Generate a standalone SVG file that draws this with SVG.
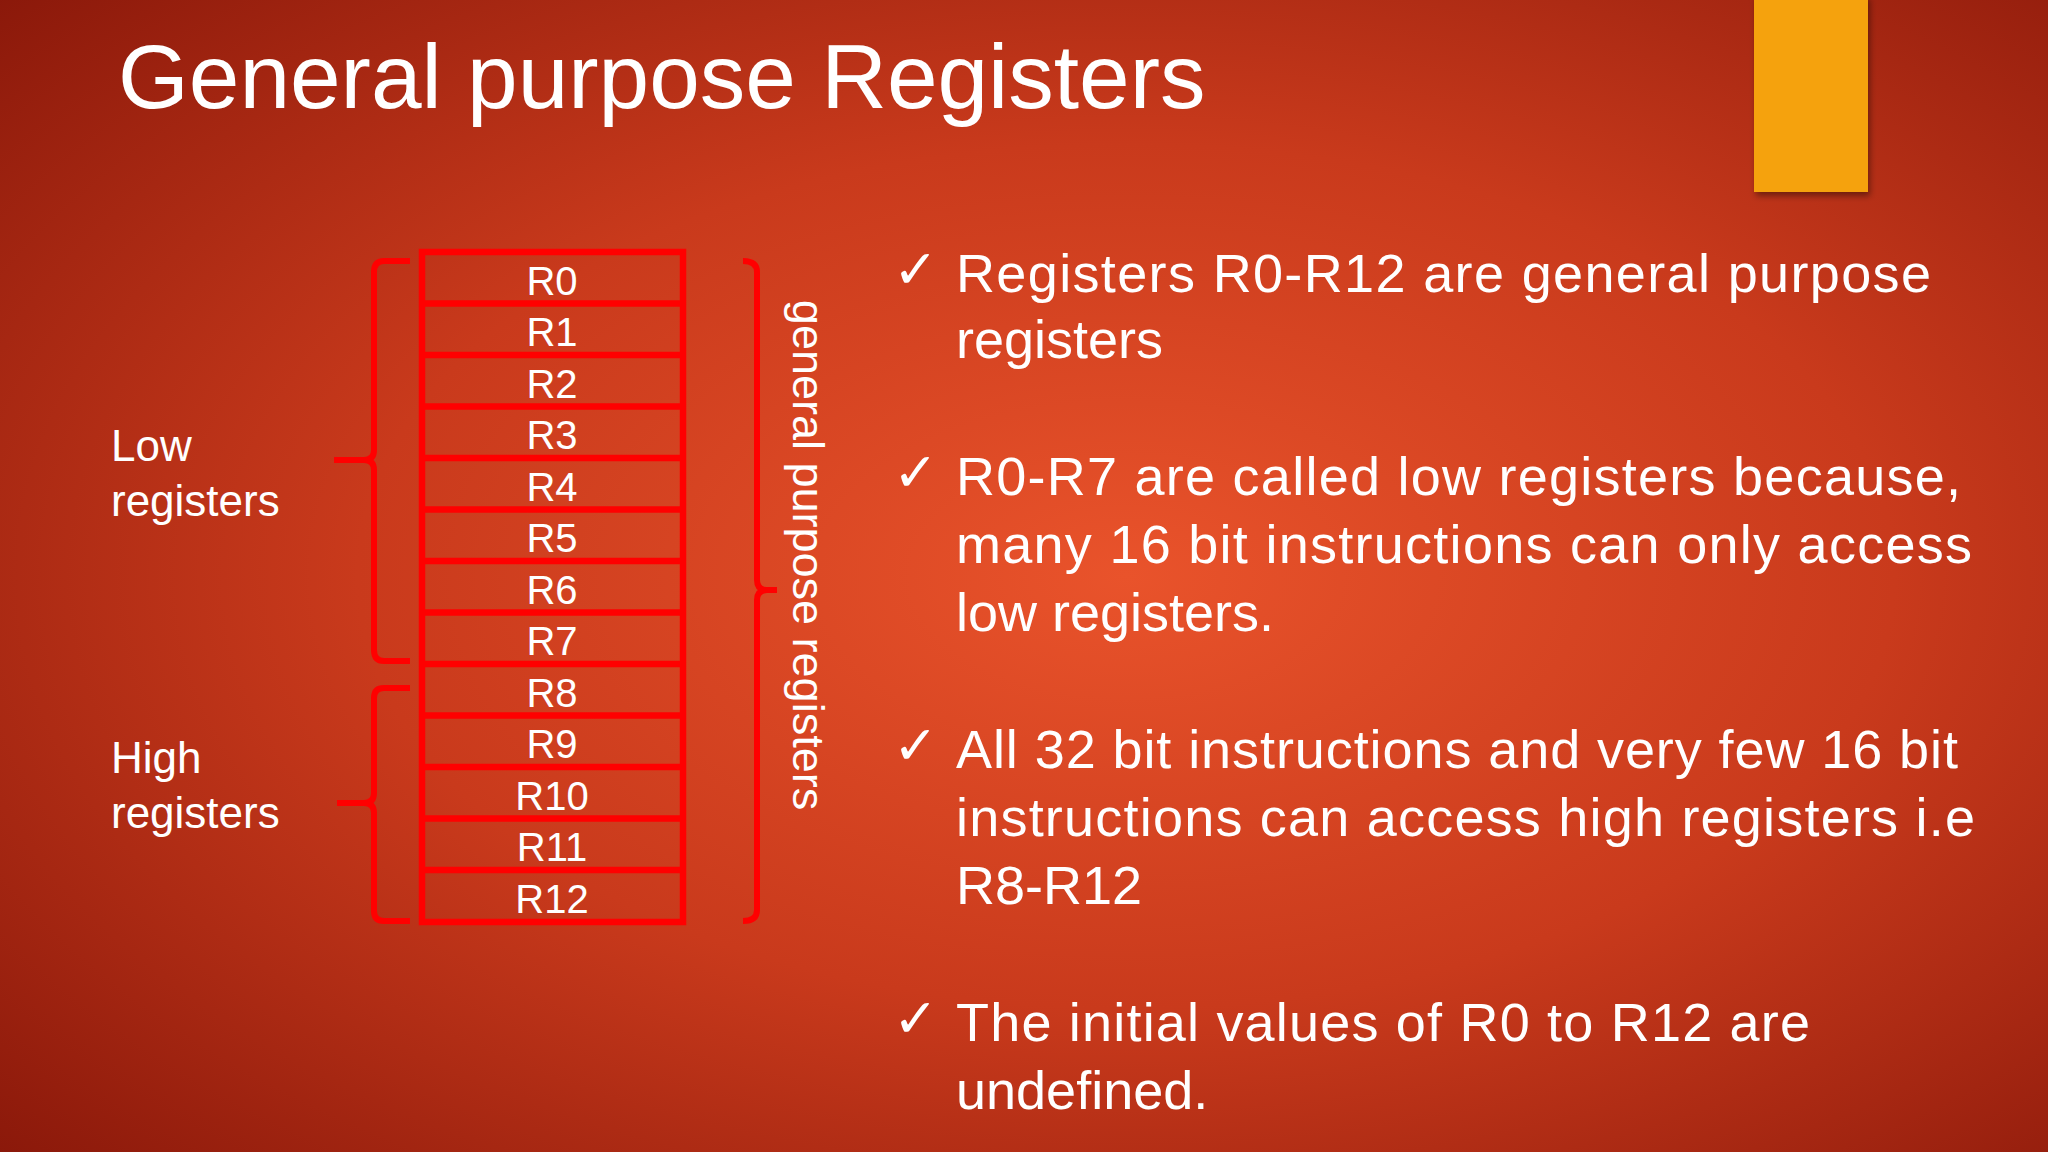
<svg xmlns="http://www.w3.org/2000/svg" width="2048" height="1152" viewBox="0 0 2048 1152">
<defs>
<radialGradient id="bg" cx="0.55" cy="0.5" r="0.75">
<stop offset="0" stop-color="#e9532b"/>
<stop offset="0.5" stop-color="#c93a1c"/>
<stop offset="1" stop-color="#8a180a"/>
</radialGradient>
<filter id="sh"><feDropShadow dx="2" dy="4" stdDeviation="3" flood-opacity="0.4"/></filter>
</defs>
<style>
.reg{fill:none;stroke:#ff0000;stroke-width:6.5}
.rt{font-family:"Liberation Sans",Arial,sans-serif;font-size:40px;fill:#fff;text-anchor:middle}
.t{font-family:"Liberation Sans",Arial,sans-serif;fill:#fff}
.b{font-family:"Liberation Sans",Arial,sans-serif;font-size:54px;fill:#fff}
.br{fill:none;stroke:#ff0000;stroke-width:6;stroke-linejoin:round}
</style>
<rect width="2048" height="1152" fill="url(#bg)"/>
<rect x="1754" y="-5" width="114" height="197" fill="#f5a20e" filter="url(#sh)"/>
<text class="t" x="118" y="108" font-size="91">General purpose Registers</text>
<g id="registers">
<rect class="reg" x="422" y="252" width="261" height="670"/>
<g stroke="#ff0000" stroke-width="6.5">
<line x1="422" y1="303.5" x2="683" y2="303.5"/><line x1="422" y1="355" x2="683" y2="355"/>
<line x1="422" y1="406.5" x2="683" y2="406.5"/><line x1="422" y1="458" x2="683" y2="458"/>
<line x1="422" y1="509.5" x2="683" y2="509.5"/><line x1="422" y1="561" x2="683" y2="561"/>
<line x1="422" y1="612.5" x2="683" y2="612.5"/><line x1="422" y1="664" x2="683" y2="664"/>
<line x1="422" y1="715.5" x2="683" y2="715.5"/><line x1="422" y1="767" x2="683" y2="767"/>
<line x1="422" y1="818.5" x2="683" y2="818.5"/><line x1="422" y1="870" x2="683" y2="870"/>
</g>
<text class="rt" x="552" y="295">R0</text><text class="rt" x="552" y="346">R1</text>
<text class="rt" x="552" y="398">R2</text><text class="rt" x="552" y="449">R3</text>
<text class="rt" x="552" y="501">R4</text><text class="rt" x="552" y="552">R5</text>
<text class="rt" x="552" y="604">R6</text><text class="rt" x="552" y="655">R7</text>
<text class="rt" x="552" y="707">R8</text><text class="rt" x="552" y="758">R9</text>
<text class="rt" x="552" y="810">R10</text><text class="rt" x="552" y="861">R11</text>
<text class="rt" x="552" y="913">R12</text>
</g>
<g id="connectors">
<path class="br" d="M410,261 H384 Q374,261 374,272 V450 Q374,460 364,460 H334 M364,460 Q374,460 374,470 V650 Q374,661 384,661 H410"/>
<path class="br" d="M410,688 H384 Q374,688 374,698 V793 Q374,803 364,803 H337 M364,803 Q374,803 374,813 V911 Q374,921 384,921 H410"/>
<path class="br" d="M743,261 Q757,261 757,272 V580 Q757,590 767,590 H777 M767,590 Q757,590 757,600 V910 Q757,921 743,921"/>
</g>
<g id="labels">
<text class="t" x="111" y="461" font-size="44">Low</text>
<text class="t" x="111" y="516" font-size="44">registers</text>
<text class="t" x="111" y="773" font-size="44">High</text>
<text class="t" x="111" y="828" font-size="44">registers</text>
<text class="t" font-size="45" text-anchor="middle" transform="translate(793,555) rotate(90)">general purpose registers</text>
</g>
<g id="bullets">
<text class="b" x="893" y="288" font-size="44">✓</text>
<text class="b" x="956" y="292" textLength="975">Registers R0-R12 are general purpose</text>
<text class="b" x="956" y="358">registers</text>
<text class="b" x="893" y="491" font-size="44">✓</text>
<text class="b" x="956" y="495" textLength="1005">R0-R7 are called low registers because,</text>
<text class="b" x="956" y="563" textLength="1016">many 16 bit instructions can only access</text>
<text class="b" x="956" y="631">low registers.</text>
<text class="b" x="893" y="764" font-size="44">✓</text>
<text class="b" x="956" y="768" textLength="1002">All 32 bit instructions and very few 16 bit</text>
<text class="b" x="956" y="836" textLength="1019">instructions can access high registers i.e</text>
<text class="b" x="956" y="904">R8-R12</text>
<text class="b" x="893" y="1037" font-size="44">✓</text>
<text class="b" x="956" y="1041" textLength="854">The initial values of R0 to R12 are</text>
<text class="b" x="956" y="1109">undefined.</text>
</g>
</svg>
